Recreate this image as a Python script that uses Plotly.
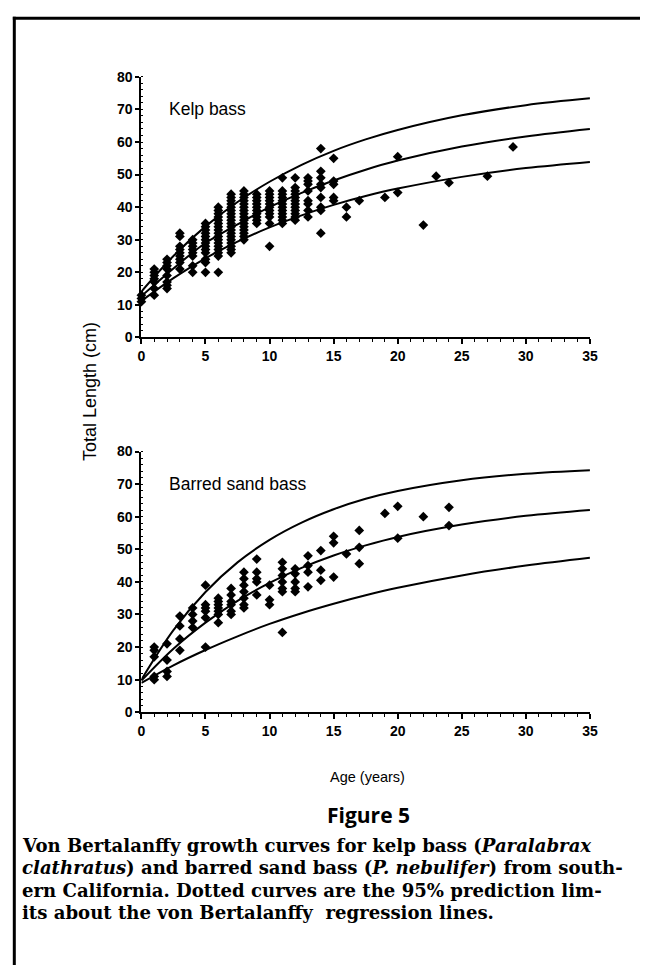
import plotly.graph_objects as go

# ---------------- data ----------------
# ages at which the fitted curves are tabulated (years)
curve_ages = [0, 2.5, 5, 7.5, 10, 12.5, 15, 17.5, 20, 25, 30, 35]

# kelp bass: von Bertalanffy fit and 95% prediction limits (cm)
kelp_fit = [12.7, 21.2, 29.0, 34.7, 40.0, 44.4, 48.2, 51.5, 54.3, 58.6, 61.7, 64.0]
kelp_upper = [14.1, 25.0, 34.1, 41.6, 47.8, 53.0, 57.3, 60.8, 63.7, 68.2, 71.3, 73.4]
kelp_lower = [11.2, 18.2, 24.3, 29.4, 33.8, 37.5, 40.7, 43.4, 45.7, 49.3, 52.0, 53.9]

# barred sand bass: von Bertalanffy fit and 95% prediction limits (cm)
sand_fit = [9.7, 19.5, 27.5, 34.2, 39.7, 44.3, 48.1, 51.2, 53.8, 57.6, 60.3, 62.1]
sand_upper = [10.0, 25.2, 36.9, 46.0, 52.9, 58.2, 62.3, 65.5, 67.9, 71.2, 73.2, 74.3]
sand_lower = [9.0, 14.4, 19.1, 23.3, 27.1, 30.4, 33.3, 35.9, 38.2, 42.0, 45.0, 47.4]

# observed total lengths (cm) of kelp bass, grouped by age (years)
kelp_ages = [0, 1, 2, 3, 4, 5, 6, 7, 8, 9, 10, 11, 12, 13, 14, 15, 16, 17, 19, 20,
             22, 23, 24, 27, 29]
kelp_lengths = [
    [11, 12, 13],
    [13, 15, 17, 18, 19, 20, 21],
    [15, 16, 17, 19, 21, 22, 23, 24],
    [21, 23, 24, 25, 26, 27, 28, 31, 32],
    [20, 22, 25, 26, 27, 28, 29, 30],
    [20, 23, 24, 26, 27, 28, 29, 30, 31, 32, 33, 34, 35],
    [20, 25, 26, 27, 28, 29, 30, 31, 32, 33, 34, 35, 36, 37, 38, 39, 40],
    [26, 27, 28, 29, 30, 31, 32, 33, 34, 35, 36, 37, 38, 39, 40, 41, 42, 43, 44],
    [30, 31, 32, 33, 34, 35, 36, 37, 38, 39, 40, 41, 42, 43, 44, 45],
    [35, 36, 37, 38, 39, 40, 41, 42, 43, 44],
    [28, 35, 37, 38, 39, 40, 41, 42, 43, 44, 45],
    [35, 36, 37, 38, 39, 40, 41, 42, 43, 44, 45, 49],
    [36, 37, 38, 39, 40, 41, 42, 43, 44, 45, 46, 49],
    [37, 39, 41, 42, 45, 47, 48, 49],
    [32, 39, 40, 43, 46, 47, 49, 51, 58],
    [42, 43, 47, 48, 55],
    [37, 40],
    [42],
    [43],
    [44.5, 55.5],
    [34.5],
    [49.5],
    [47.5],
    [49.5],
    [58.5],
]

# observed total lengths (cm) of barred sand bass, grouped by age (years)
sand_ages = [1, 2, 3, 4, 5, 6, 7, 8, 9, 10, 11, 12, 13, 14, 15, 16, 17, 19, 20, 22, 24]
sand_lengths = [
    [10, 11, 17, 19, 20],
    [11, 12.5, 16, 21],
    [19, 22.5, 26.5, 29.5],
    [26, 28, 30, 32],
    [20, 29, 31, 32, 33, 39],
    [27.5, 30, 31, 32, 33, 34, 35],
    [30, 31, 33, 34, 36, 38],
    [32, 33, 35, 37, 39, 41, 43],
    [36, 40, 41, 43, 47],
    [33, 34.5, 39],
    [24.5, 37, 38, 40, 42, 44, 46],
    [37, 38, 40, 42.5, 44],
    [38.5, 43, 45, 48],
    [40.5, 43.6, 49.6],
    [41.5, 52, 54],
    [48.6],
    [45.6, 50.6, 55.8],
    [61],
    [53.4, 63.2],
    [60],
    [57.3, 62.9],
]

x_ticks = [0, 5, 10, 15, 20, 25, 30, 35]
y_ticks = [0, 10, 20, 30, 40, 50, 60, 70, 80]

species_labels = ["Kelp bass", "Barred sand bass"]
x_title = "Age (years)"
y_title = "Total Length (cm)"
figure_title = "Figure 5"
caption_lines = [
    "Von Bertalanffy growth curves for kelp bass (<i>Paralabrax</i>",
    "<i>clathratus</i>) and barred sand bass (<i>P. nebulifer</i>) from south-",
    "ern California. Dotted curves are the 95% prediction lim-",
    "its about the von Bertalanffy  regression lines.",
]

# ---------------- figure ----------------
W, H = 648, 973
fig = go.Figure()

def flatten(ages, groups):
    xs, ys = [], []
    for a, g in zip(ages, groups):
        for v in g:
            xs.append(a)
            ys.append(v)
    return xs, ys

panels = [
    ("x", "y", kelp_ages, kelp_lengths, kelp_fit, kelp_upper, kelp_lower),
    ("x2", "y2", sand_ages, sand_lengths, sand_fit, sand_upper, sand_lower),
]

for xa, ya, ages, groups, fit, up, lo in panels:
    for curve in (up, fit, lo):
        fig.add_trace(go.Scatter(
            x=curve_ages, y=curve, mode="lines", xaxis=xa, yaxis=ya,
            line=dict(color="black", width=2, shape="spline", smoothing=1.0),
            showlegend=False, hoverinfo="skip"))
    px_, py_ = flatten(ages, groups)
    fig.add_trace(go.Scatter(
        x=px_, y=py_, mode="markers", xaxis=xa, yaxis=ya,
        marker=dict(symbol="diamond", size=7.5, color="black",
                    line=dict(width=0)),
        cliponaxis=False, showlegend=False))

def px_to_x(p):
    return p / W

def px_to_y(p):
    return 1 - p / H

x_dom = [px_to_x(140), px_to_x(597)]
top_dom = [px_to_y(335), px_to_y(70)]
bot_dom = [px_to_y(716), px_to_y(451)]

sans = "Liberation Sans, Arial"
tick_font = dict(family=sans, size=14, color="black", weight="bold")

def xaxis_cfg(anchor):
    return dict(
        domain=x_dom, anchor=anchor, range=[0, 35], tickvals=x_ticks,
        ticktext=[str(v) for v in x_ticks],
        showgrid=False, zeroline=False, showline=True, linecolor="black",
        linewidth=2, ticks="outside", ticklen=5, tickwidth=1.6,
        tickcolor="black", tickfont=tick_font,
        minor=dict(dtick=1, ticks="outside", ticklen=3, tickwidth=1.3,
                   tickcolor="black", showgrid=False),
        fixedrange=True)

def yaxis_cfg(anchor, dom):
    return dict(
        domain=dom, anchor=anchor, range=[0, 80], tickvals=y_ticks,
        showgrid=False, zeroline=False, showline=True, linecolor="black",
        linewidth=2, ticks="outside", ticklen=4, tickwidth=1.6,
        tickcolor="black", tickfont=tick_font,
        minor=dict(dtick=2, ticks="inside", ticklen=2, tickwidth=1.2,
                   tickcolor="black", showgrid=False),
        fixedrange=True)

fig.update_layout(
    width=W, height=H,
    margin=dict(l=0, r=0, t=0, b=0),
    paper_bgcolor="white", plot_bgcolor="white",
    xaxis=xaxis_cfg("y"),
    yaxis=yaxis_cfg("x", top_dom),
    xaxis2=xaxis_cfg("y2"),
    yaxis2=yaxis_cfg("x2", bot_dom),
    showlegend=False,
)

# panel labels
for xr, yr, label in (("x", "y", species_labels[0]), ("x2", "y2", species_labels[1])):
    fig.add_annotation(x=2.0, y=70, xref=xr, yref=yr, text=label,
                       showarrow=False, xanchor="left", yanchor="middle",
                       font=dict(family=sans, size=17.5, color="black"))

# shared axis titles
fig.add_annotation(x=px_to_x(87), y=px_to_y(390), xref="paper", yref="paper",
                   text=y_title, textangle=-90, showarrow=False,
                   xanchor="center", yanchor="middle",
                   font=dict(family=sans, size=18, color="black"))
fig.add_annotation(x=px_to_x(370), y=px_to_y(782), xref="paper", yref="paper",
                   text=x_title, showarrow=False, xanchor="center",
                   yanchor="middle",
                   font=dict(family=sans, size=14.5, color="black"))

# figure heading and caption
fig.add_annotation(x=px_to_x(371), y=px_to_y(821), xref="paper", yref="paper",
                   text="<b>" + figure_title + "</b>", showarrow=False,
                   xanchor="center", yanchor="middle",
                   font=dict(family="Open Sans, Noto Sans", size=21, color="black"))
for i, line in enumerate(caption_lines):
    fig.add_annotation(x=px_to_x(16), y=px_to_y(851 + 23 * i), xref="paper",
                       yref="paper", text=line, showarrow=False,
                       xanchor="left", yanchor="middle",
                       font=dict(family="DejaVu Serif", size=18.1, color="black",
                                 weight="bold"))

# page frame (left and top rules)
fig.add_shape(type="line", xref="paper", yref="paper",
              x0=px_to_x(10.5), x1=px_to_x(10.5), y0=px_to_y(9), y1=0,
              line=dict(color="black", width=3))
fig.add_shape(type="line", xref="paper", yref="paper",
              x0=px_to_x(9), x1=1, y0=px_to_y(10.5), y1=px_to_y(10.5),
              line=dict(color="black", width=3))

fig.write_html("out.html")
